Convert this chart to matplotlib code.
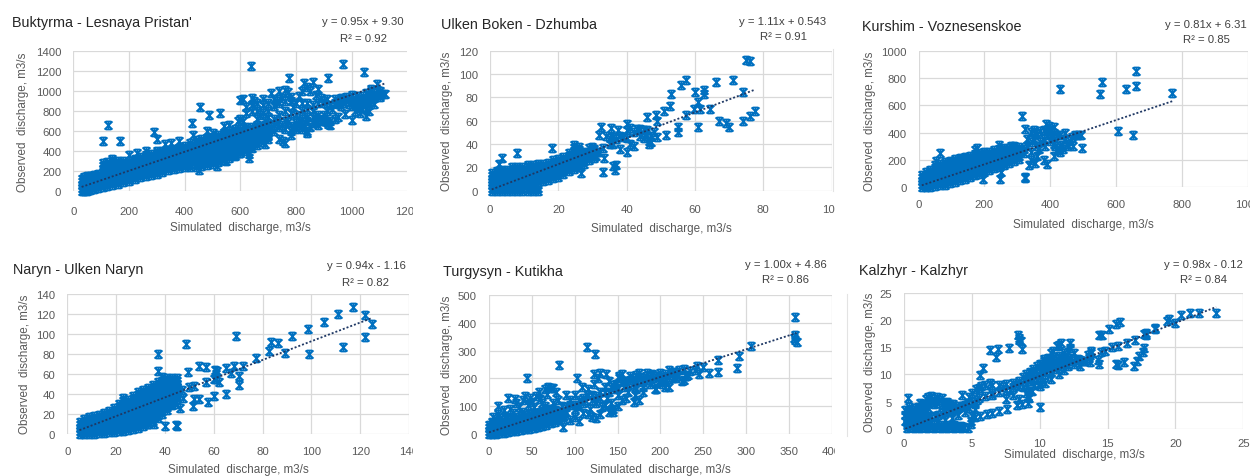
import numpy as np
import matplotlib
matplotlib.use("Agg")
import matplotlib.pyplot as plt
from matplotlib.path import Path
from matplotlib.transforms import Bbox, TransformedBbox
from matplotlib.lines import Line2D

plt.rcParams['font.family'] = ['Liberation Sans', 'DejaVu Sans']

# ---------------- DATA ----------------
titles = ["Buktyrma - Lesnaya Pristan'", "Ulken Boken - Dzhumba", "Kurshim - Voznesenskoe",
          "Naryn - Ulken Naryn", "Turgysyn - Kutikha", "Kalzhyr - Kalzhyr"]
equations = ["y = 0.95x + 9.30", "y = 1.11x + 0.543", "y = 0.81x + 6.31",
             "y = 0.94x - 1.16", "y = 1.00x + 4.86", "y = 0.98x - 0.12"]
r2_labels = ["R² = 0.92", "R² = 0.91", "R² = 0.85", "R² = 0.82", "R² = 0.86", "R² = 0.84"]
slopes = [0.95, 1.11, 0.81, 0.94, 1.00, 0.98]
intercepts = [9.30, 0.543, 6.31, -1.16, 4.86, -0.12]
x_max = [1200, 100, 1000, 140, 400, 25]
x_step = [200, 20, 200, 20, 50, 5]
y_max = [1400, 120, 1000, 140, 500, 25]
y_step = [200, 20, 200, 20, 100, 5]

# Buktyrma: dense columns {simulated: [observed...]} + scattered points
buk_dense = {
    30: [0, 30, 60, 90, 120], 40: [0, 30, 60, 90, 120, 140], 50: [0, 30, 60, 90, 120, 150],
    60: [10, 40, 70, 100, 130, 150], 75: [20, 50, 80, 110, 140, 160], 90: [30, 60, 90, 120, 150, 170],
    105: [40, 70, 100, 130, 160, 190, 220, 250, 280],
    120: [50, 80, 110, 140, 170, 200, 230, 260, 290],
    140: [60, 90, 120, 150, 180, 210, 240, 270, 300],
    160: [70, 100, 130, 160, 190, 220, 250, 280, 300],
    180: [90, 120, 150, 180, 210, 240, 270, 300],
    200: [100, 130, 160, 190, 220, 250, 280, 300],
    220: [120, 150, 180, 210, 240, 270, 300, 320],
    240: [140, 170, 200, 230, 260, 290, 320, 340],
    260: [150, 180, 210, 240, 270, 300, 330, 360],
    280: [160, 190, 220, 250, 280, 310, 340, 370],
    300: [170, 200, 230, 260, 290, 320, 350, 380, 400],
    320: [190, 220, 250, 280, 310, 340, 370, 400],
    340: [210, 240, 270, 300, 330, 360, 390, 410],
    360: [220, 250, 280, 310, 340, 370, 400, 420],
    380: [230, 260, 290, 320, 350, 380, 410, 430],
    400: [240, 270, 300, 330, 360, 390, 420, 450],
    420: [240, 270, 300, 330, 360, 390, 420, 450, 480],
    440: [240, 270, 300, 330, 360, 390, 420, 450, 480, 510],
    460: [250, 280, 310, 340, 370, 400, 430, 460, 490, 520],
    480: [260, 290, 320, 350, 380, 410, 440, 470, 500, 530],
    500: [270, 300, 330, 360, 390, 420, 450, 480, 510, 540],
    520: [290, 320, 350, 380, 410, 440, 470, 500, 530, 560],
    540: [310, 340, 370, 400, 430, 460, 490, 520, 550, 580],
    560: [330, 360, 390, 420, 450, 480, 510, 540, 570, 600],
    580: [350, 380, 410, 440, 470, 500, 530, 560, 590, 620],
    600: [380, 410, 440, 470, 500, 530, 560, 590, 620],
    620: [400, 430, 460, 490, 520, 550, 580, 610, 640],
    640: [430, 460, 490, 520, 550, 580, 610, 640],
    660: [460, 490, 520, 550, 580, 610, 640],
    680: [490, 520, 550, 580, 610], 700: [520, 550, 580, 610],
}
buk_pts = [
    (600, 910), (610, 920), (620, 780), (640, 930), (650, 900), (660, 800), (670, 760), (680, 860),
    (690, 700), (700, 800), (710, 980), (720, 850), (730, 900), (740, 1000), (750, 930), (760, 1010),
    (770, 990), (780, 900), (790, 840), (800, 880), (810, 950), (820, 1000), (830, 1080), (840, 1040),
    (850, 1000), (860, 1090), (870, 960), (880, 1020), (890, 930), (900, 880), (910, 920), (920, 860),
    (940, 920), (950, 900), (960, 910), (970, 880), (980, 900), (990, 920), (1000, 890), (1010, 930),
    (1020, 900), (1030, 880), (1040, 950), (1050, 900), (1060, 960), (1070, 1000), (1080, 980),
    (1090, 1010), (1100, 1000), (1110, 970), (1040, 870), (1050, 820), (1060, 860), (1030, 830),
    (1010, 800), (1070, 900), (1080, 930), (1000, 850), (960, 850), (930, 820), (910, 800),
    (650, 620), (670, 640), (690, 660), (710, 640), (730, 680), (750, 660), (770, 690), (790, 650),
    (810, 700), (830, 660), (850, 640), (870, 680), (890, 700), (910, 690), (780, 600), (800, 640),
    (820, 620), (840, 700), (860, 740), (880, 720), (900, 760), (720, 720), (740, 760), (700, 740),
    (760, 800), (780, 780), (800, 760), (820, 800), (840, 820), (860, 800),
    (690, 470), (700, 560), (720, 600), (740, 520), (760, 480), (780, 560), (800, 620), (840, 580),
    (870, 700), (920, 660), (950, 740), (975, 770), (1000, 710), (1050, 750), (1060, 800), (1030, 780),
    (900, 720), (126, 660), (105, 497), (168, 500), (455, 840), (638, 1243), (970, 1263), (1043, 1190),
    (776, 1130), (916, 1130), (527, 780), (489, 760), (425, 680), (517, 247), (453, 210), (630, 367),
    (547, 293), (752, 497), (840, 597), (916, 670), (1118, 970), (1092, 1063), (290, 590), (300, 520),
    (330, 470), (380, 500), (350, 480), (430, 560), (480, 600), (500, 580), (540, 650), (560, 660),
    (590, 700), (600, 720), (610, 700), (520, 540), (230, 380), (260, 400), (140, 320), (200, 360),
    (630, 330), (580, 360), (600, 380),
    (960, 930), (980, 940), (1000, 960), (1020, 950), (1040, 920), (1060, 930), (1080, 950),
    (1090, 960), (1100, 940), (1010, 870), (1030, 910), (1050, 880), (1070, 940), (990, 870),
    (970, 920), (950, 870), (940, 880), (1020, 860), (1040, 900), (1060, 890), (1080, 870),
    (1100, 960), (1070, 1020), (1050, 980), (860, 680), (880, 660), (900, 700), (920, 700),
    (940, 720), (820, 660), (800, 680), (760, 700), (740, 640), (720, 660), (700, 620), (680, 640),
    (660, 660), (700, 680), (760, 620), (820, 720), (840, 740), (880, 760), (860, 860), (880, 880),
    (900, 900), (840, 880), (820, 880), (780, 940), (760, 900), (740, 880), (720, 920), (700, 880),
    (680, 920), (660, 880), (640, 860), (620, 840), (640, 800), (660, 720), (680, 780),
]

# Ulken Boken
ulk_dense = {
    0.5: [0, 2.5, 5, 7.5, 10, 12.5, 15], 2: [0, 2.5, 5, 7.5, 10, 12.5, 15, 17],
    3.5: [0, 2.5, 5, 7.5, 10, 12.5, 15, 17.5], 5: [0, 2.5, 5, 7.5, 10, 12.5, 15, 17.5],
    6.5: [0, 2.5, 5, 7.5, 10, 12.5, 15, 17.5, 20], 8: [0, 2.5, 5, 7.5, 10, 12.5, 15, 17.5, 20],
    9.5: [0, 2.5, 5, 7.5, 10, 12.5, 15, 17.5, 20], 11: [0, 2.5, 5, 7.5, 10, 12.5, 15, 17.5, 20, 22],
    12.5: [0, 2.5, 5, 7.5, 10, 12.5, 15, 17.5, 20, 22], 14: [0, 2.5, 7.5, 10, 12.5, 15, 17.5, 20, 22.5],
    15.5: [8, 10.5, 13, 15.5, 18, 20.5, 23], 17: [9, 11.5, 14, 16.5, 19, 21.5, 24],
    18.5: [11, 13.5, 16, 18.5, 21, 23.5, 26], 20: [12, 14.5, 17, 19.5, 22, 24.5, 27],
    21.5: [14, 16.5, 19, 21.5, 24, 26.5, 29], 23: [17, 19.5, 22, 24.5, 27, 29.5, 32],
    24.5: [19, 21.5, 24, 26.5, 29, 31.5, 34, 36.5, 39], 26: [20, 22.5, 25, 27.5, 30, 32.5, 35, 37.5],
    27.5: [23, 25.5, 28, 30.5, 33], 29: [26, 28.5, 31, 33.5], 30.5: [28, 30.5, 33, 35.5],
}
ulk_pts = [
    (75, 112), (76, 111), (57.5, 95), (56, 91), (53, 83), (66, 93), (71, 95), (74, 85), (62.5, 86),
    (62.5, 83), (60, 85), (61, 76), (59.7, 70), (61.6, 70), (64.5, 70), (52.7, 73), (51, 68),
    (57.5, 65), (48.5, 65), (46, 63), (49, 60), (61, 55), (67, 60), (69, 58), (70, 55), (74, 60),
    (76, 64), (77.5, 68), (51.5, 48), (55, 55), (55, 50), (49, 46), (47, 42), (46.5, 40), (40, 57),
    (32.4, 55), (35.5, 54), (37.5, 52), (40, 52), (41, 54), (43, 53), (44, 53), (46, 52), (41, 40),
    (42, 38), (38, 36), (40, 33), (36, 40), (33.5, 28), (33, 16), (36.5, 18), (36, 21), (37, 22),
    (26.5, 15), (8, 32), (2.5, 23), (3.5, 28), (18, 36.5), (32, 48), (34, 47), (36, 46), (35, 45),
    (37, 44), (39, 46), (42, 50), (44, 47), (45, 52), (33, 37), (31, 30), (30, 35), (32, 33), (28, 31),
    (29, 37), (35, 40), (38, 47), (40, 45), (45, 45), (47, 47), (48, 50), (45.6, 48.6), (46.4, 43),
    (29.8, 37.7), (31.2, 33.4), (27.8, 32),
]

# Kurshim
kur_dense = {
    10: [0, 22, 44, 66, 88], 22: [0, 22, 44, 66, 88, 110], 35: [5, 27, 49, 71, 93, 115, 130],
    50: [10, 32, 54, 76, 98, 120, 142, 160], 65: [15, 37, 59, 81, 103, 125, 147, 170],
    80: [20, 42, 64, 86, 108, 130, 152, 174, 185], 95: [30, 52, 74, 96, 118, 140, 162, 184, 195],
    110: [40, 62, 84, 106, 128, 150, 172, 194, 205], 125: [50, 72, 94, 116, 138, 160, 182, 204, 215],
    140: [60, 82, 104, 126, 148, 170, 192, 214, 225], 155: [75, 97, 119, 141, 163, 185, 207, 230],
    170: [90, 112, 134, 156, 178, 200, 222, 245], 185: [100, 122, 144, 166, 188, 210, 232, 250],
    200: [115, 137, 159, 181, 203, 225, 247, 262], 215: [125, 147, 169, 191, 213, 235, 257],
    230: [140, 162, 184, 206, 228, 250, 270], 245: [150, 172, 194, 216, 238, 260, 280],
    260: [160, 182, 204, 226, 248, 270, 288], 275: [175, 197, 219, 241, 263, 285],
    290: [190, 212, 234, 256, 278, 298], 305: [210, 232, 254, 276, 298],
}
kur_pts = [
    (660, 855), (557, 770), (430, 718), (550, 685), (630, 722), (660, 738), (770, 692), (605, 412),
    (650, 380), (315, 525), (475, 382), (485, 385), (492, 385), (497, 285), (388, 462), (395, 448),
    (412, 440), (322, 72), (324, 65), (248, 62), (250, 115), (390, 172), (335, 160), (65, 250),
    (52, 195), (178, 285), (170, 275), (195, 60), (245, 310), (290, 305), (324, 430), (340, 405),
    (355, 400), (320, 280), (330, 300), (340, 260), (345, 330), (350, 350), (360, 300), (365, 280),
    (370, 330), (380, 350), (385, 300), (390, 380), (395, 410), (400, 340), (405, 360), (410, 320),
    (415, 300), (420, 270), (425, 290), (430, 260), (435, 310), (440, 280), (445, 350), (450, 320),
    (455, 300), (460, 340), (465, 370), (470, 300), (360, 390), (370, 410), (350, 420), (380, 420),
    (400, 420), (410, 400), (420, 380), (430, 380), (445, 395), (410, 230), (380, 200), (360, 230),
    (340, 200), (320, 250), (300, 260), (310, 270), (290, 240), (280, 300), (270, 250), (355, 180),
    (330, 350),
]

# Naryn
nar_dense = {
    5: [0, 3, 6, 9, 12], 7: [0, 3, 6, 9, 12, 15], 9: [0, 3, 6, 9, 12, 15, 17],
    11: [0, 3, 6, 9, 12, 15, 18], 13: [1, 4, 7, 10, 13, 16, 19], 15: [1, 4, 7, 10, 13, 16, 19, 21],
    17: [2, 5, 8, 11, 14, 17, 20, 23], 19: [2, 5, 8, 11, 14, 17, 20, 23, 26],
    21: [3, 6, 9, 12, 15, 18, 21, 24, 27, 30], 23: [3, 6, 9, 12, 15, 18, 21, 24, 27, 30, 33, 36],
    25: [4, 7, 10, 13, 16, 19, 22, 25, 28, 31, 34],
    27: [5, 8, 11, 14, 17, 20, 23, 26, 29, 32, 35, 38],
    29: [6, 9, 12, 15, 18, 21, 24, 27, 30, 33, 36, 39, 42],
    31: [8, 11, 14, 17, 20, 23, 26, 29, 32, 35, 38, 41, 44],
    33: [10, 13, 16, 19, 22, 25, 28, 31, 34, 37, 40, 43, 46],
    35: [13, 16, 19, 22, 25, 28, 31, 34, 37, 40, 43, 46, 49],
    37: [16, 19, 22, 25, 28, 31, 34, 37, 40, 43, 46, 49, 52],
    39: [20, 23, 26, 29, 32, 35, 38, 41, 44, 47, 50, 53],
    41: [24, 27, 30, 33, 36, 39, 42, 45, 48, 51, 54],
    43: [29, 32, 35, 38, 41, 44, 47, 50, 53, 56], 45: [35, 38, 41, 44, 47, 50, 53, 56],
}
nar_pts = [
    (117, 127), (122, 119), (125, 110), (122, 97), (111, 120), (105, 112), (98.5, 105), (92, 98),
    (113, 87), (99, 80), (89, 81), (82.5, 83), (83.5, 92), (86.5, 91), (77.5, 76), (69, 98),
    (48.5, 90), (37, 80), (37, 63), (49.5, 62), (54, 68), (57, 67), (60.5, 64), (61.5, 63), (65, 66),
    (68.5, 68), (72, 68), (67, 61), (70.5, 58), (70.5, 49), (65, 40), (60, 38), (57.5, 32), (54, 35),
    (52, 35), (51.5, 28), (57, 52), (60, 55), (61, 55), (62, 52), (61, 60), (35.5, 10), (40, 8),
    (44.5, 9), (45, 8), (31, 11), (33, 10), (47.5, 36), (45, 40), (44, 45), (45, 46), (47, 44),
    (50, 47), (52, 48), (42, 52), (41, 56), (39, 57), (46, 26), (44, 30), (38, 27), (36, 30),
    (33, 23), (30, 20), (28, 16), (26, 12), (24, 10), (41, 34), (42, 30), (39, 40),
]

# Turgysyn
tur_dense = {
    0: [0, 11, 22, 33], 4: [0, 11, 22, 33, 44], 8: [0, 11, 22, 33, 44], 12: [2, 13, 24, 35, 46],
    17: [4, 15, 26, 37, 48], 22: [6, 17, 28, 39, 50], 27: [8, 19, 30, 41, 52, 58],
    32: [10, 21, 32, 43, 54, 62], 37: [13, 24, 35, 46, 57, 65], 42: [16, 27, 38, 49, 60, 68],
    47: [18, 29, 40, 51, 62, 70], 52: [21, 32, 43, 54, 65, 72], 57: [25, 36, 47, 58, 69, 76],
    62: [28, 39, 50, 61, 72, 80], 67: [32, 43, 54, 65, 76, 84], 72: [37, 48, 59, 70, 81, 88],
    77: [42, 53, 64, 75, 86], 82: [48, 59, 70, 81], 87: [54, 65, 76],
}
tur_pts = [
    (357, 423), (357, 355), (357, 340), (359, 332), (356, 345), (306, 316), (292, 280), (290, 238),
    (267, 266), (267, 222), (257, 218), (243, 243), (230, 210), (228, 193), (232, 211), (215, 223),
    (205, 169), (205, 187), (194, 162), (190, 213), (172, 213), (169, 115), (175, 122), (114, 315),
    (124, 288), (82, 248), (44, 202), (103, 202), (123, 215), (130, 220), (137, 217), (152, 210),
    (155, 214), (86, 25),
    (10, 70), (13, 55), (18, 85), (20, 60), (22, 130), (25, 90), (28, 75), (30, 125), (32, 110),
    (35, 95), (38, 80), (40, 120), (42, 135), (45, 105), (48, 130), (50, 115), (52, 95), (55, 135),
    (58, 150), (60, 125), (62, 110), (65, 160), (68, 145), (69, 168), (72, 165), (75, 165), (78, 150),
    (80, 120), (55, 70), (60, 80), (65, 100), (70, 90), (75, 110), (11, 99), (15, 40), (5, 60),
    (85, 100), (90, 80), (95, 120), (100, 60), (100, 140), (105, 100), (108, 170), (110, 75),
    (112, 120), (115, 160), (118, 90), (120, 140), (122, 180), (125, 110), (127, 200), (130, 150),
    (132, 95), (135, 170), (138, 130), (140, 190), (142, 110), (145, 160), (148, 180), (150, 140),
    (152, 200), (155, 120), (157, 170), (160, 190), (162, 150), (165, 210), (168, 180), (170, 200),
    (172, 160), (175, 220), (178, 190), (180, 170), (183, 210), (185, 195), (188, 180), (190, 215),
    (192, 200), (195, 160), (198, 190), (200, 205), (202, 180), (205, 215), (207, 195), (210, 170),
    (215, 220), (218, 200), (222, 230), (228, 235), (230, 210), (225, 190), (100, 90), (110, 130),
    (120, 60), (130, 70), (140, 80), (125, 55), (95, 50), (105, 45), (135, 105), (145, 90), (160, 130),
    (170, 140), (180, 150), (150, 100), (115, 70), (90, 140), (85, 75), (95, 105), (142, 85), (145, 80),
    (160, 175), (165, 195), (170, 185), (175, 205), (180, 200), (185, 220), (190, 190), (195, 210),
    (200, 190), (210, 205), (215, 200), (220, 210), (180, 185), (150, 165), (140, 150), (130, 130),
    (120, 120), (110, 110), (100, 105), (90, 95), (155, 185), (145, 175), (135, 150), (125, 135),
    (115, 140), (105, 120), (170, 170), (200, 220), (210, 230), (220, 215), (240, 230), (235, 225),
    (250, 240), (245, 215),
]

# Kalzhyr
kal_pts = [
    (0.2, 0.1), (0.7, 0.1), (1.2, 0.1), (1.7, 0.1), (2.2, 0.1), (2.7, 0.1), (3.2, 0.1), (3.7, 0.1),
    (4.2, 0.1), (4.7, 0.1), (0.2, 0.7), (0.7, 0.7), (1.2, 0.7), (1.7, 0.7), (2.2, 0.7), (2.7, 0.6),
    (3.2, 0.6), (3.7, 0.6), (4.2, 0.5), (0.45, 0.4), (0.95, 0.4), (1.45, 0.4), (1.95, 0.4),
    (2.45, 0.4), (2.95, 0.35), (3.45, 0.35), (3.95, 0.3), (4.45, 0.3),
    (0.1, 1.5), (0.1, 2.5), (0.1, 3.5), (0.4, 1.2), (0.4, 2.2), (0.4, 3.2), (0.4, 4.0), (0.8, 1.8),
    (0.8, 2.8), (0.8, 3.8), (1.2, 2.5), (1.2, 3.5), (1.2, 4.8), (1.6, 3.2), (1.6, 4.2), (1.6, 5.5),
    (2.0, 6.0), (2.0, 5.0), (2.4, 5.9), (2.4, 4.8), (2.8, 5.6), (2.8, 4.6), (3.2, 5.0), (3.2, 4.3),
    (3.6, 4.5), (4.0, 4.2), (4.4, 4.0), (4.8, 3.9), (5.2, 3.6),
    (0.2, 1.0), (0.2, 2.0), (0.2, 3.0), (0.6, 1.5), (0.6, 2.5), (0.6, 3.5), (1.0, 2.0), (1.0, 3.0),
    (1.0, 4.0), (1.4, 2.8), (1.4, 3.8), (1.4, 4.6), (1.8, 3.8), (1.8, 4.8), (1.8, 5.8), (2.2, 4.5),
    (2.2, 5.5), (2.6, 5.2), (3.0, 4.8), (3.4, 4.6),
    (1.0, 1.2), (1.5, 1.6), (2.0, 2.1), (2.5, 2.5), (3.0, 3.0), (3.5, 3.3), (4.0, 3.8), (4.5, 4.4),
    (5.0, 5.0), (5.5, 5.6), (6.0, 6.0), (6.5, 6.5), (7.0, 6.8), (7.5, 7.2), (8.0, 7.6), (8.5, 7.9),
    (9.0, 8.3), (5.2, 4.6), (5.4, 5.2), (5.5, 7.5), (5.3, 7.3), (5.7, 7.8), (6.0, 8.1), (6.3, 8.5),
    (4.8, 5.8), (5.0, 6.5), (6.5, 8.0), (7.0, 8.0), (7.5, 8.3), (8.0, 8.5), (8.5, 8.8), (9.0, 9.2),
    (1.3, 1.6), (1.8, 2.0), (2.3, 2.4), (2.8, 2.9), (3.3, 3.3), (3.8, 3.7), (4.3, 4.1), (4.7, 4.7),
    (2.5, 1.5), (3.0, 1.6), (3.5, 2.0), (4.0, 2.5), (4.5, 3.0), (2.0, 1.2), (4.9, 1.5), (5.0, 2.3),
    (4.9, 0.8), (1.5, 1.0),
    (8.4, 17.2), (8.5, 16.8), (8.5, 16.3), (8.6, 16.1), (6.3, 14.5), (6.9, 14.6), (6.8, 13.3),
    (7.7, 14.8), (8.7, 14.6), (5.6, 9.9), (5.8, 11.1), (4.3, 6.2), (0.3, 5.7), (10.0, 4.0),
    (5.2, 2.2), (5.6, 2.4), (6.1, 2.8), (6.5, 2.9), (7.0, 3.2), (7.6, 3.7), (8.3, 4.4), (8.7, 4.6),
    (9.1, 4.7), (9.2, 5.6), (9.4, 6.9), (9.1, 6.1), (10.0, 7.8), (10.4, 8.4), (10.8, 9.2),
    (11.4, 10.1), (11.8, 10.8), (12.1, 11.5),
    (6.5, 6.3), (7.3, 7.6), (7.8, 7.2), (8.2, 8.0), (9.3, 8.7), (8.8, 7.6), (9.2, 7.0), (9.6, 8.0),
    (9.8, 9.0), (10.0, 8.5), (8.0, 6.3), (7.5, 5.5), (8.5, 5.5), (9.0, 6.5), (9.1, 9.8), (9.4, 10.3),
    (9.8, 10.0),
    (9.0, 10), (9.3, 10.5), (9.5, 11), (9.8, 11.5), (10, 12), (10.3, 12.5), (10.6, 13), (11, 13.3),
    (11.4, 13.4), (11.8, 13.3), (12.2, 13), (12.4, 12.5), (12.0, 12.0), (11.6, 11.5), (11.2, 11),
    (10.8, 10.5), (10.4, 10), (10.0, 9.5), (9.6, 9.5), (10.2, 11), (10.8, 12), (11.2, 12.5),
    (10.5, 11.5), (11.0, 11.8), (11.5, 12.3), (9.5, 9.0), (8.8, 9.5), (12.5, 12), (12.8, 12.3),
    (13.2, 12.5), (10.8, 13.9), (11.0, 14.3), (11.4, 15.5), (11.6, 15.8), (12.2, 15.8), (11.3, 15.2),
    (12.2, 14.9), (12.1, 14.2), (12.5, 14.0), (11.8, 14.0), (12.8, 12.8), (13.0, 12.6), (13.6, 13.1),
    (13.7, 12.3), (14.3, 12.6), (14.4, 11.9),
    (9.7, 10.6), (10.1, 10.4), (10.5, 10.9), (10.9, 11.3), (11.3, 11.8), (11.7, 12.7), (10.6, 12.4),
    (10.2, 11.9), (11.5, 13.0), (12.0, 12.6), (11.0, 12.8), (10.3, 12.9),
    (13.8, 14.4), (14.5, 14.1), (14.8, 14.4), (15.3, 15.0), (15.8, 15.3), (16.4, 15.7), (17.0, 16.3),
    (17.7, 17.4), (18.5, 18.3), (19.4, 19.8), (19.5, 20.3), (20.0, 19.5), (20.4, 21.0), (21.1, 21.3),
    (21.7, 21.4), (23.0, 21.4), (18.5, 18.5), (17.8, 17.6), (17.8, 17.2),
    (15.6, 11.9), (15.8, 11.8), (16.2, 12.2), (16.95, 11.6), (17.2, 12.5), (17.3, 13.4), (17.6, 14.2),
    (17.7, 14.9), (14.4, 17.2), (15.1, 18.4), (15.6, 19.3), (15.9, 19.6), (14.6, 17.2),
    (13.75, 14.0), (13.56, 13.5), (13.3, 12.4), (12.95, 11.6),
]


def merge(dense, pts):
    xs, ys = [], []
    for xv, col in (dense or {}).items():
        for yv in col:
            xs.append(xv)
            ys.append(yv)
    for xv, yv in pts:
        xs.append(xv)
        ys.append(yv)
    return np.array(xs, float), np.array(ys, float)


series = [merge(buk_dense, buk_pts), merge(ulk_dense, ulk_pts), merge(kur_dense, kur_pts),
          merge(nar_dense, nar_pts), merge(tur_dense, tur_pts), merge(None, kal_pts)]

# ---------------- LAYOUT (pixels) ----------------
W, H = 1250, 477
layout = [
    dict(box=(73.3, 51.7, 407.5, 191.7), title=(12, 23), eq=(363, 22, 39), ylab=(23, 122), xlab=(240, 228), xpad=10.8, clip=413),
    dict(box=(490, 51.7, 831.7, 191.7), title=(441, 25), eq=(783, 22, 37), ylab=(447, 121), xlab=(661, 229), xpad=9.7, clip=835),
    dict(box=(918.5, 51.7, 1248, 188.3), title=(862, 27), eq=(1206, 25, 40), ylab=(870, 121), xlab=(1083, 225), xpad=8.3, clip=1250),
    dict(box=(67.3, 295.3, 409, 434.7), title=(13, 270), eq=(366, 266, 283), ylab=(25, 364), xlab=(238, 470), xpad=8.8, clip=413),
    dict(box=(489, 296.3, 831.7, 434.7), title=(443, 272), eq=(786, 265, 280), ylab=(447, 365), xlab=(660, 470), xpad=8.8, clip=835),
    dict(box=(904, 294, 1243.3, 429.7), title=(859, 271), eq=(1203, 265, 280), ylab=(870, 362), xlab=(1074, 455), xpad=7.0, clip=1250),
]

MARKER_COLOR = '#0070C0'
TREND_COLOR = '#1F3864'
TEXT_COLOR = '#595959'
GRID_COLOR = '#D9D9D9'

# Excel-like star marker: X with a vertical stroke and short caps
star = Path([(-1, -1), (1, 1), (-1, 1), (1, -1), (0, 1), (0, -1),
             (-0.7, 1), (0.7, 1), (-0.7, -1), (0.7, -1)],
            [Path.MOVETO, Path.LINETO] * 5)

fig = plt.figure(figsize=(W / 100, H / 100), dpi=100)
fig.patch.set_facecolor('white')


def fx(x):
    return x / W


def fy(y):
    return 1 - y / H


for i, lay in enumerate(layout):
    l, t, r, b = lay['box']
    ax = fig.add_axes([fx(l), fy(b), (r - l) / W, (b - t) / H])
    xs, ys = series[i]
    ax.plot(xs, ys, linestyle='none', marker=star, markersize=5.8,
            markeredgewidth=1.25, markeredgecolor=MARKER_COLOR, markerfacecolor='none',
            clip_on=False, zorder=3)
    xl = np.array([xs.min(), xs.max()])
    ax.plot(xl, slopes[i] * xl + intercepts[i], color=TREND_COLOR, lw=1.3,
            linestyle=(0, (1.1, 1.1)), zorder=4)
    ax.set_xlim(0, x_max[i])
    ax.set_ylim(0, y_max[i])
    ax.set_xticks(np.arange(0, x_max[i] + x_step[i] / 2, x_step[i]))
    ax.set_yticks(np.arange(0, y_max[i] + y_step[i] / 2, y_step[i]))
    ax.grid(True, color=GRID_COLOR, lw=0.9, zorder=0)
    ax.set_axisbelow(True)
    for s in ax.spines.values():
        s.set_visible(False)
    ax.tick_params(axis='both', length=0, labelsize=8.2, labelcolor=TEXT_COLOR)
    ax.tick_params(axis='x', pad=lay['xpad'])
    ax.tick_params(axis='y', pad=8.6)
    clipbox = TransformedBbox(Bbox.from_extents(0, 0, fx(lay['clip']), 1), fig.transFigure)
    for lab in ax.get_xticklabels():
        lab.set_clip_box(clipbox)
        lab.set_clip_on(True)

    ax.set_xlabel('Simulated  discharge, m3/s', fontsize=8.4, color=TEXT_COLOR)
    ax.xaxis.label.set_va('center')
    ax.xaxis.set_label_coords(fx(lay['xlab'][0]), fy(lay['xlab'][1]), transform=fig.transFigure)
    ax.set_ylabel('Observed  discharge, m3/s', fontsize=8.4, color=TEXT_COLOR)
    ax.yaxis.label.set_va('center')
    ax.yaxis.set_label_coords(fx(lay['ylab'][0]), fy(lay['ylab'][1]), transform=fig.transFigure)

    fig.text(fx(lay['title'][0]), fy(lay['title'][1]), titles[i], fontsize=10.4,
             color='#262626', ha='left', va='center')
    cx, y1, y2 = lay['eq']
    fig.text(fx(cx), fy(y1), equations[i], fontsize=8.2, color='#404040', ha='center', va='center')
    fig.text(fx(cx), fy(y2), r2_labels[i], fontsize=8.2, color='#404040', ha='center', va='center')

# faint image-border lines between panels
fig.add_artist(Line2D([fx(833), fx(833)], [fy(50), fy(192)], color='#E3E3E3', lw=0.8))
fig.add_artist(Line2D([fx(847), fx(847)], [fy(295), fy(437)], color='#E3E3E3', lw=0.8))

fig.savefig('out.png', dpi=100, facecolor='white')
